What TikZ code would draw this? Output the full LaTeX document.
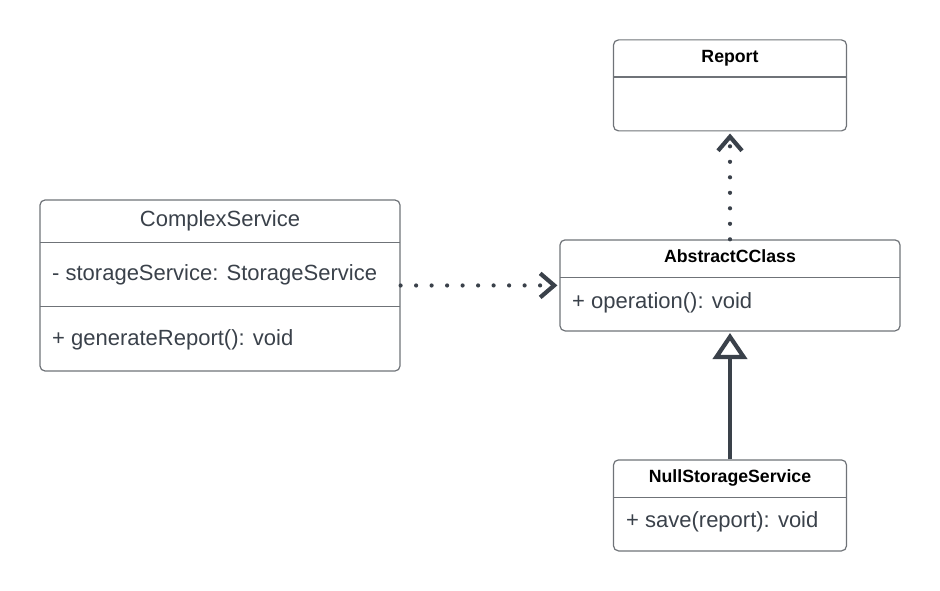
\documentclass[tikz,border=0pt]{standalone}
\usepackage{fontspec}
\setmainfont{Liberation Sans}
\usetikzlibrary{arrows.meta,positioning}
\definecolor{boxline}{HTML}{6F7378}
\definecolor{inkgrey}{HTML}{3A414A}
\tikzset{class box/.style={draw=boxline,line width=1.2pt,rounded corners=5pt,inner sep=0pt},
         class title/.style={font=\fontsize{17.7}{21}\selectfont\bfseries,text=black,inner sep=0pt,anchor=base},
         class name/.style={font=\fontsize{22}{26}\selectfont,text=inkgrey,inner sep=0pt,anchor=base},
         member/.style={font=\fontsize{22}{26}\selectfont,text=inkgrey,inner sep=0pt,anchor=base west},
         separator/.style={draw=boxline,line width=1.2pt},
         depends/.style={draw=inkgrey,line width=4.2pt,line cap=round,dash pattern=on 0pt off 15.5pt,
                         -{Straight Barb[length=14pt,width=24pt,line width=4.2pt]}},
         inherits/.style={draw=inkgrey,line width=4.5pt,-{Triangle[open,length=26pt,width=34pt,line width=4.2pt]}},
            }

\begin{document}
\begin{tikzpicture}[x=1pt,y=-1pt]
    \useasboundingbox (0,0) rectangle (940,591);

    % class boxes
    \node[class box,minimum width=233pt,minimum height=91pt] (report) at (730,85.4) {};
    \node[class box,minimum width=360pt,minimum height=171pt] (cs) at (220,285.5) {};
    \node[class box,minimum width=340pt,minimum height=91pt] (ac) at (730,285.4) {};
    \node[class box,minimum width=233pt,minimum height=91pt] (nss) at (730,505.4) {};

    % compartments
    \draw[separator] (613.5,77) -- (846.5,77);
    \draw[separator] (40,242.3) -- (400,242.3);
    \draw[separator] (40,306.3) -- (400,306.3);
    \draw[separator] (560,277.3) -- (900,277.3);
    \draw[separator] (613.5,497.3) -- (846.5,497.3);

    % texts
    \node[class title] (report title) at (730,62.3) {Report};
    \node[class name] (cs title) at (220,226) {ComplexService};
    \node[member] (cs attr) at (52,280.7) {- storageService: StorageService};
    \node[member] (cs op) at (52,345) {+ generateReport(): void};
    \node[class title] (ac title) at (730,262.3) {AbstractCClass};
    \node[member] (ac op) at (572,308.3) {+ operation(): void};
    \node[class title] (nss title) at (730,482.3) {NullStorageService};
    \node[member] (nss op) at (626,527.3) {+ save(report): void};

    % relations
    \draw[depends,shorten >=2pt] (cs.east) -- (ac.west);
    \draw[depends,shorten >=2pt] (ac.north) -- (report.south);
    \draw[inherits,shorten >=1.5pt] (nss.north) -- (ac.south);

\end{tikzpicture}
\end{document}
